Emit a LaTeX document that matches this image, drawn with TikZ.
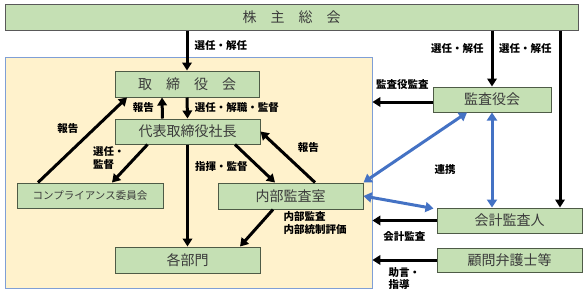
\documentclass[tikz,border=0pt]{standalone}
\usepackage{fontspec}
\newfontfamily\jpfont{Noto Sans CJK JP}
\usetikzlibrary{arrows.meta, positioning, calc}
\definecolor{boxgreen}{HTML}{C5E0B4}
\definecolor{boxline}{HTML}{4E5B46}
\definecolor{areafill}{HTML}{FFF2CC}
\definecolor{arealine}{HTML}{7F9FD6}
\definecolor{linkblue}{HTML}{4472C4}
\definecolor{boxtext}{HTML}{3B3B3B}

\begin{document}
\begin{tikzpicture}[
  x=1pt, y=-1pt,
  box/.style={draw=boxline, fill=boxgreen, line width=1pt, inner sep=0pt,
    text=boxtext, font=\jpfont\fontsize{14}{16}\selectfont},
  lbl/.style={font=\jpfont\bfseries\fontsize{10.5}{12.5}\selectfont, inner sep=1pt},
  arr/.style={line width=3pt, -{Triangle[length=8pt, width=9.5pt]}},
  link/.style={line width=3pt, draw=linkblue,
    {Triangle[length=8pt, width=10pt]}-{Triangle[length=8pt, width=10pt]}},
]
  \useasboundingbox (0,0) rectangle (586,293);

  % Company area
  \node[draw=arealine, fill=areafill, line width=0.8pt, minimum width=367pt,
    minimum height=231pt] (group) at (188.5,172.5) {};

  % Boxes
  \node[box, draw=gray!70!black, minimum width=573pt, minimum height=26pt] (soukai) at (291.5,17) {株　主　総　会};
  \node[box, minimum width=144pt, minimum height=26pt] (tori)    at (187,84)    {取　締　役　会};
  \node[box, minimum width=145pt, minimum height=25pt] (daihyo)  at (187.5,131.5) {代表取締役社長};
  \node[box, minimum width=146pt, minimum height=25pt,
    font=\jpfont\fontsize{10.5}{12}\selectfont]     (comp)    at (90,195.5)  {コンプライアンス委員会};
  \node[box, minimum width=145pt, minimum height=26pt] (naibu)   at (290.5,196) {内部監査室};
  \node[box, minimum width=145pt, minimum height=26pt] (kakubu)  at (187.5,260) {各部門};
  \node[box, minimum width=118pt, minimum height=25pt] (kansa)   at (492,99.5)  {監査役会};
  \node[box, minimum width=145pt, minimum height=25pt] (kaikei)  at (509.5,220.5) {会計監査人};
  \node[box, minimum width=145pt, minimum height=24pt] (komon)   at (509.5,260) {顧問弁護士等};

  % Shareholders
  \draw[arr] (soukai.south -| tori) -- node[lbl, right=5pt, pos=0.37] {選任・解任} (tori.north);
  \draw[arr] (soukai.south -| kansa) -- node[lbl, left=6pt, pos=0.32] {選任・解任} (kansa.north);
  \coordinate (kaikeitop) at ([xshift=50.5pt]kaikei.north);
  \draw[arr] (soukai.south -| kaikeitop) -- node[lbl, left=6pt, pos=0.1] {選任・解任} (kaikeitop);

  % Board and president
  \draw[arr] ([xshift=-25pt]daihyo.north) -- node[lbl, left=6pt] {報告} ([xshift=-25pt]tori.south);
  \draw[arr] (tori.south) -- node[lbl, right=5pt] {選任・解職・監督} (daihyo.north);
  \draw[arr] ([xshift=-52pt]comp.north) -- node[lbl, left=14pt, pos=0.64] {報告} ([xshift=-60pt]tori.south);
  \draw[arr] ([xshift=-40pt]daihyo.south) -- node[lbl, left=8pt, pos=0.35, align=left] {選任・\\監督} ([xshift=22pt]comp.north);
  \draw[arr] (daihyo.south) -- node[lbl, right=5pt, pos=0.22] {指揮・監督} (kakubu.north);
  \draw[arr] ([xshift=47.5pt]daihyo.south) -- ([xshift=-15.5pt]naibu.north);
  \draw[arr] ([xshift=24.5pt]naibu.north) -- node[lbl, right=18pt, pos=0.69] {報告} (daihyo.east);
  \draw[arr] ([xshift=-17.5pt]naibu.south) -- node[lbl, pos=0, anchor=north west, xshift=8pt, align=left] {内部監査\\内部統制評価} ([xshift=52.5pt]kakubu.north);

  % Outside the company
  \draw[arr] ([yshift=-2.5pt]kansa.west) -- node[lbl, above=10pt] {監査役監査} ([yshift=-2.5pt]kansa.west -| group.east);
  \draw[arr] (kaikei.west) -- node[lbl, below=9pt] {会計監査} (kaikei.west -| group.east);
  \draw[arr] (komon.west) -- node[lbl, below=5pt, align=left] {助言・\\指導} (komon.west -| group.east);

  % Cooperation
  \draw[link] (naibu.north east) -- ([xshift=-25pt]kansa.south);
  \draw[link] (kansa.south) -- (kansa.south |- kaikei.north);
  \draw[link] (naibu.east) -- ([xshift=-3pt, yshift=-1pt]kaikei.north west);
  \node[lbl] (renkei) at (445,170) {連携};
\end{tikzpicture}
\end{document}
